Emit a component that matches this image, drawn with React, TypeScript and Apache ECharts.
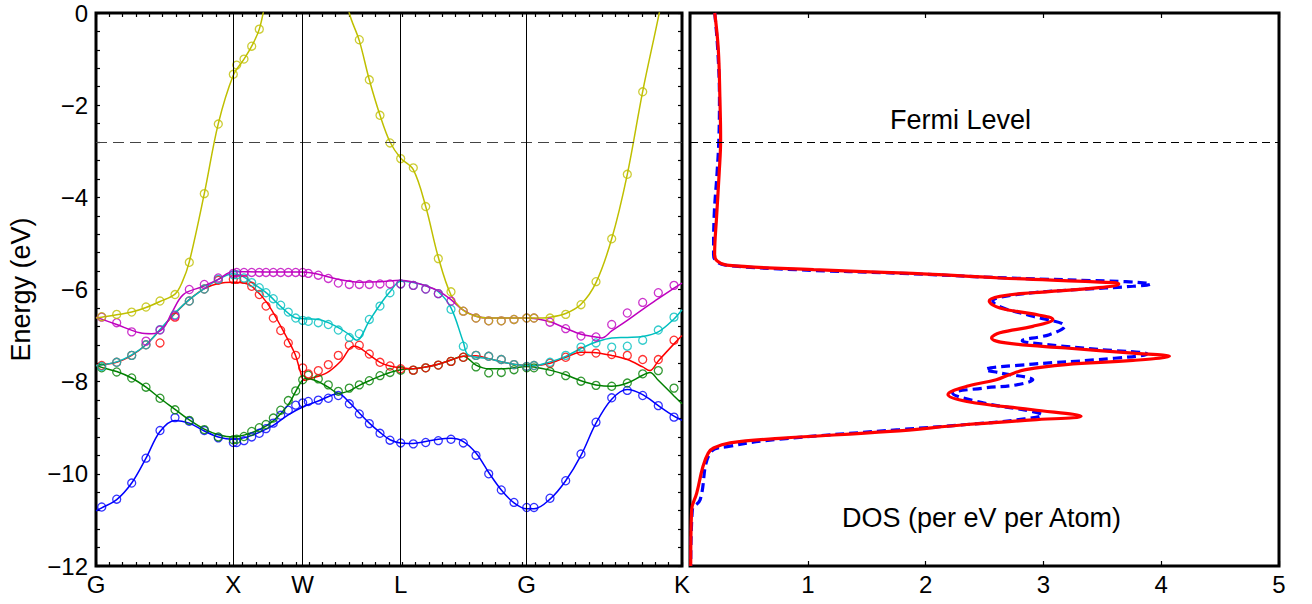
import React, { useEffect, useRef } from 'react';
import * as echarts from 'echarts';

// ---------- Band structure (left panel) ----------
const kTicks = [0, 137.3, 206.7, 304.7, 430.7, 586];
const kTickLabels = ['G', 'X', 'W', 'L', 'G', 'K'];
const fermiLevel = -2.8;
const energyTicks = [0, -2, -4, -6, -8, -10, -12];

// k positions of the computed points (circles)
const kPoints = [5.7, 20.7, 35.7, 50, 64, 79, 93.3, 108.3, 122.3, 137.3,
  140.7, 148, 155.7, 163.3, 170, 177.3, 184.7, 192.3, 199.7, 206.7,
  212.3, 222.3, 232.3, 242.3, 253.3, 263.3, 273.3, 284, 294, 304.7,
  317.3, 329.7, 342.3, 355, 367.3, 380, 392.7, 405.3, 418, 430.7,
  438, 454, 469.7, 485, 500, 515.7, 531.3, 546.7, 562.3, 578];

const bluePts = [-10.72, -10.55, -10.2, -9.66, -9.06, -8.78, -8.86, -9.06, -9.22, -9.32,
  -9.32, -9.28, -9.2, -9.12, -9.02, -8.9, -8.73, -8.62, -8.51, -8.46,
  -8.43, -8.4, -8.36, -8.3, -8.48, -8.7, -8.91, -9.12, -9.27, -9.33,
  -9.35, -9.32, -9.28, -9.25, -9.33, -9.6, -10.0, -10.35, -10.62, -10.73,
  -10.73, -10.53, -10.15, -9.57, -8.88, -8.35, -8.19, -8.3, -8.52, -8.77];
const greenPts = [-7.7, -7.79, -7.92, -8.12, -8.36, -8.61, -8.84, -9.04, -9.2, -9.26,
  -9.25, -9.19, -9.08, -9.0, -8.93, -8.79, -8.62, -8.41, -8.2, -7.96,
  -7.86, -7.94, -8.07, -8.21, -8.14, -8.07, -7.98, -7.87, -7.8, -7.75,
  -7.75, -7.7, -7.64, -7.56, -7.47, -7.68, -7.81, -7.8, -7.74, -7.7,
  -7.7, -7.78, -7.87, -7.99, -8.08, -8.1, -8.03, -7.83, -7.76, -8.14];
const redPts = [-7.65, -7.58, -7.43, -7.2, -7.16, -6.6, -6.25, -5.99, -5.8, -5.78,
  -5.78, -5.78, -5.93, -6.11, -6.36, -6.62, -6.89, -7.16, -7.43, -7.7,
  -7.83, -7.76, -7.63, -7.43, -7.21, -7.21, -7.4, -7.58, -7.66, -7.72,
  -7.75, -7.7, -7.64, -7.56, -7.47, -7.43, -7.45, -7.52, -7.63, -7.67,
  -7.65, -7.6, -7.47, -7.34, -7.38, -7.41, -7.43, -7.52, -7.52, -7.1];
const cyanPts = [-7.67, -7.58, -7.43, -7.2, -6.87, -6.55, -6.25, -5.99, -5.78, -5.68,
  -5.68, -5.75, -5.85, -5.96, -6.07, -6.2, -6.34, -6.49, -6.62, -6.67,
  -6.69, -6.72, -6.76, -6.88, -7.04, -6.96, -6.65, -6.36, -6.07, -5.88,
  -5.91, -5.99, -6.09, -6.43, -7.23, -7.43, -7.45, -7.52, -7.63, -7.67,
  -7.65, -7.58, -7.43, -7.25, -7.16, -7.25, -7.23, -7.1, -6.88, -6.6];
const magentaPts = [-6.6, -6.72, -6.92, -7.12, -6.88, -6.57, -6.0, -5.89, -5.75, -5.65,
  -5.63, -5.63, -5.63, -5.63, -5.63, -5.63, -5.63, -5.63, -5.63, -5.63,
  -5.65, -5.69, -5.76, -5.86, -5.89, -5.89, -5.89, -5.88, -5.88, -5.88,
  -5.91, -5.99, -6.09, -6.25, -6.47, -6.62, -6.68, -6.68, -6.65, -6.62,
  -6.62, -6.71, -6.85, -7.01, -7.03, -6.76, -6.51, -6.28, -6.07, -5.91];
const yellowPts = [-6.59, -6.54, -6.49, -6.38, -6.25, -6.11, -5.41, -3.92, -2.41, -1.33,
  -1.13, -1.0, -0.72, -0.35, null, null, null, null, null, null,
  null, null, null, null, null, -0.58, -1.45, -2.22, -2.82, -3.16,
  -3.36, -4.2, -5.33, -6.05, -6.47, -6.62, -6.68, -6.68, -6.65, -6.62,
  -6.62, -6.62, -6.54, -6.33, -5.83, -4.9, -3.5, -1.71, null, null];

// fitted curves (k, E)
const blueLine = [[0, -10.8], [5.7, -10.74], [20.7, -10.56], [35.7, -10.2], [50, -9.66], [64, -9.08], [79, -8.84], [93.3, -8.9], [108.3, -9.07], [122.3, -9.2], [137.3, -9.25], [148, -9.22], [163.3, -9.1], [177.3, -8.95], [192.3, -8.72], [206.7, -8.55], [222.3, -8.42], [242.3, -8.26], [253.3, -8.45], [263.3, -8.68], [273.3, -8.9], [284, -9.1], [294, -9.26], [304.7, -9.33], [317.3, -9.34], [329.7, -9.3], [342.3, -9.25], [355, -9.23], [367.3, -9.3], [380, -9.55], [392.7, -9.97], [405.3, -10.35], [418, -10.63], [430.7, -10.76], [438, -10.76], [454, -10.55], [469.7, -10.15], [485, -9.6], [500, -8.9], [515.7, -8.38], [531.3, -8.17], [546.7, -8.28], [562.3, -8.52], [578, -8.75], [586, -8.84]];
const greenLine = [[0, -7.65], [5.7, -7.69], [20.7, -7.78], [35.7, -7.92], [50, -8.12], [64, -8.36], [79, -8.6], [93.3, -8.83], [108.3, -9.03], [122.3, -9.15], [137.3, -9.2], [148, -9.16], [163.3, -9.04], [177.3, -8.85], [192.3, -8.5], [200, -8.2], [206.7, -7.96], [211, -7.93], [222.3, -8.0], [232.3, -8.12], [243, -8.25], [253.3, -8.2], [263.3, -8.08], [273.3, -7.98], [284, -7.88], [294, -7.8], [304.7, -7.74], [317.3, -7.72], [329.7, -7.68], [342.3, -7.62], [355, -7.53], [367.3, -7.45], [380, -7.64], [392.7, -7.72], [405.3, -7.72], [418, -7.7], [430.7, -7.67], [438, -7.68], [454, -7.75], [469.7, -7.85], [485, -7.98], [500, -8.07], [515.7, -8.1], [531.3, -8.03], [546.7, -7.86], [554, -7.8], [562.3, -7.97], [578, -8.31], [586, -8.48]];
const redLine = [[0, -7.65], [20.7, -7.58], [35.7, -7.43], [50, -7.2], [64, -6.88], [79, -6.52], [93.3, -6.22], [108.3, -5.98], [122.3, -5.87], [137.3, -5.84], [148, -5.86], [155.7, -5.93], [170.7, -6.28], [187.3, -6.9], [199, -7.4], [204, -7.75], [208, -7.97], [215, -7.93], [230.7, -7.81], [245, -7.55], [257.3, -7.23], [263.3, -7.26], [273.3, -7.42], [284, -7.58], [294, -7.66], [304.7, -7.7], [317.3, -7.72], [329.7, -7.68], [342.3, -7.62], [355, -7.53], [367.3, -7.45], [380, -7.44], [392.7, -7.5], [405.3, -7.57], [418, -7.62], [430.7, -7.65], [438, -7.65], [454, -7.6], [469.7, -7.47], [485, -7.36], [500, -7.37], [515.7, -7.43], [531.3, -7.52], [546.7, -7.68], [554, -7.76], [562.3, -7.55], [578, -7.18], [586, -7.0]];
const cyanLine = [[0, -7.65], [20.7, -7.57], [35.7, -7.42], [50, -7.2], [64, -6.87], [79, -6.51], [93.3, -6.22], [108.3, -5.98], [122.3, -5.78], [137.3, -5.66], [147.3, -5.72], [155.7, -5.85], [170.7, -6.08], [187.3, -6.42], [200, -6.62], [212.3, -6.64], [222.3, -6.65], [232.3, -6.72], [245, -6.86], [253.3, -6.98], [260.7, -7.1], [273.3, -6.68], [284, -6.33], [294, -6.05], [304.7, -5.82], [317.3, -5.85], [329.7, -5.92], [342.3, -6.05], [355, -6.4], [367.3, -7.14], [372.3, -7.42], [392.7, -7.5], [405.3, -7.57], [418, -7.62], [430.7, -7.65], [438, -7.65], [454, -7.57], [469.7, -7.45], [485, -7.28], [500, -7.14], [515.7, -7.05], [531.3, -7.04], [546.7, -7.02], [562.3, -6.92], [578, -6.64], [586, -6.44]];
const magentaLine = [[0, -6.6], [20.7, -6.76], [44, -6.94], [55.7, -6.96], [67.3, -6.84], [75.7, -6.51], [87.3, -6.11], [107.3, -5.93], [122.3, -5.78], [137.3, -5.61], [170, -5.62], [206.7, -5.62], [222.3, -5.67], [242.3, -5.78], [263.3, -5.84], [284, -5.83], [304.7, -5.8], [317.3, -5.84], [329.7, -5.92], [342.3, -6.03], [355, -6.22], [367.3, -6.45], [380, -6.58], [392.7, -6.62], [430.7, -6.62], [438, -6.63], [454, -6.7], [469.7, -6.84], [485, -6.97], [500, -7.03], [505.7, -7.05], [515.7, -6.9], [531.3, -6.67], [546.7, -6.43], [562.3, -6.2], [578, -5.97], [586, -5.86]];
const yellowLine1 = [[0, -6.62], [5.7, -6.6], [20.7, -6.55], [35.7, -6.49], [50, -6.39], [64, -6.26], [79, -6.1], [86, -5.85], [93.3, -5.4], [108.3, -3.92], [122.3, -2.4], [137.3, -1.35], [148, -1.0], [155.7, -0.72], [163.3, -0.35], [170, 0.3], [177.3, 1.0]];
const yellowLine2 = [[245, 1.0], [253.3, 0], [263.3, -0.6], [273.3, -1.45], [284, -2.22], [294, -2.8], [304.7, -3.15], [317.3, -3.4], [329.7, -4.2], [342.3, -5.3], [355, -6.12], [367.3, -6.45], [380, -6.58], [392.7, -6.62], [430.7, -6.62], [438, -6.62], [454, -6.6], [469.7, -6.52], [485, -6.32], [500, -5.85], [515.7, -4.9], [531.3, -3.5], [546.7, -1.7], [562.3, -0.1], [578, 1.6]];

// ---------- DOS (right panel) ----------
const dosTicks = [0, 1, 2, 3, 4, 5];
const dosRedE = [0, -0.78, -1.87, -2.74, -3.46, -4.41, -5.24, -5.38, -5.47, -5.57, -5.65, -5.75, -5.85, -5.88, -5.96, -6.07, -6.15, -6.25, -6.4, -6.53, -6.65, -6.8, -6.94, -7.05, -7.16, -7.27, -7.38, -7.45, -7.54, -7.63, -7.74, -7.85, -7.96, -8.1, -8.28, -8.43, -8.61, -8.75, -8.83, -8.93, -9.08, -9.23, -9.33, -9.44, -9.55, -9.84, -10.42, -10.78, -12];
const dosRed = [0.21, 0.24, 0.254, 0.26, 0.248, 0.226, 0.209, 0.23, 0.31, 1.05, 1.89, 2.63, 3.59, 3.64, 3.47, 2.91, 2.63, 2.54, 2.63, 2.91, 3.08, 2.91, 2.63, 2.56, 2.68, 3.19, 3.76, 4.07, 3.76, 3.19, 2.85, 2.71, 2.6, 2.35, 2.19, 2.35, 2.91, 3.32, 2.91, 2.35, 1.7, 0.76, 0.34, 0.2, 0.155, 0.11, 0.057, 0.014, 0.006];
const dosBlueE = [0, -0.78, -1.87, -2.74, -3.46, -4.41, -5.24, -5.38, -5.47, -5.57, -5.65, -5.75, -5.83, -5.86, -5.88, -5.93, -6.0, -6.07, -6.17, -6.25, -6.4, -6.58, -6.8, -6.98, -7.11, -7.2, -7.3, -7.4, -7.52, -7.62, -7.74, -7.81, -7.96, -8.07, -8.14, -8.25, -8.46, -8.65, -8.72, -8.83, -8.93, -9.04, -9.25, -9.4, -9.55, -10.57, -10.78, -12];
const dosBlue = [0.21, 0.235, 0.25, 0.245, 0.23, 0.205, 0.2, 0.22, 0.3, 0.9, 1.8, 2.7, 3.7, 3.87, 3.91, 3.76, 3.3, 2.91, 2.63, 2.57, 2.66, 2.91, 3.18, 3.05, 2.82, 3.05, 3.47, 3.88, 3.47, 2.91, 2.51, 2.63, 2.91, 2.77, 2.49, 2.23, 2.49, 2.91, 2.99, 2.77, 2.35, 1.78, 0.76, 0.34, 0.17, 0.085, 0.02, 0.006];

const FONT = "'Liberation Sans', Arial, Helvetica, sans-serif";

const bands = [
  { color: '#0000ff', pts: bluePts, lines: [blueLine] },
  { color: '#008000', pts: greenPts, lines: [greenLine] },
  { color: '#ff0000', pts: redPts, lines: [redLine] },
  { color: '#00bfbf', pts: cyanPts, lines: [cyanLine] },
  { color: '#bf00bf', pts: magentaPts, lines: [magentaLine] },
  { color: '#bfbf00', pts: yellowPts, lines: [yellowLine1, yellowLine2] },
];

function kLabel(v: number) {
  for (let i = 0; i < kTicks.length; i++) {
    if (Math.abs(kTicks[i] - v) < 0.5) return kTickLabels[i];
  }
  return '';
}

function buildOption() {
  const kMax = kTicks[kTicks.length - 1];
  const minorK = kMax / 44;
  const eMin = energyTicks[energyTicks.length - 1];
  const eMax = energyTicks[0];
  const series: any[] = [];
  bands.forEach((b) => {
    b.lines.forEach((ln) => {
      series.push({
        type: 'line', xAxisIndex: 0, yAxisIndex: 0, data: ln, smooth: 0.35,
        showSymbol: false, symbol: 'none', clip: true, z: 3,
        lineStyle: { color: b.color, width: 1.5 },
      });
    });
    series.push({
      type: 'scatter', xAxisIndex: 0, yAxisIndex: 0, clip: true, z: 4,
      data: kPoints.map((k, i) => (b.pts[i] == null ? null : [k, b.pts[i]])).filter((d) => d !== null),
      symbol: 'circle', symbolSize: 8,
      itemStyle: { color: 'rgba(0,0,0,0)', borderColor: b.color, borderWidth: 1.3 },
    });
  });
  // reference lines in the band panel
  series.push({
    type: 'line', xAxisIndex: 0, yAxisIndex: 0, data: [], z: 2,
    markLine: {
      silent: true, symbol: ['none', 'none'], label: { show: false }, animation: false,
      data: [
        { yAxis: fermiLevel, lineStyle: { type: [11, 6], color: '#444', width: 1 } },
        ...kTicks.slice(1, kTicks.length - 1).map((k) => ({ xAxis: k, lineStyle: { type: 'solid', color: '#000', width: 1 } })),
      ],
    },
  });
  // DOS
  series.push({
    type: 'line', xAxisIndex: 2, yAxisIndex: 2, smooth: 0.4, showSymbol: false, symbol: 'none', z: 3,
    data: dosBlueE.map((e, i) => [dosBlue[i], e]),
    lineStyle: { color: '#0000ff', width: 3.2, type: [9, 5] },
    markLine: {
      silent: true, symbol: ['none', 'none'], label: { show: false }, animation: false,
      data: [{ yAxis: fermiLevel, lineStyle: { type: [8, 5], color: '#000', width: 1 } }],
    },
  });
  series.push({
    type: 'line', xAxisIndex: 2, yAxisIndex: 2, smooth: 0.4, showSymbol: false, symbol: 'none', z: 4,
    data: dosRedE.map((e, i) => [dosRed[i], e]),
    lineStyle: { color: '#ff0000', width: 3.2 },
  });

  const tickStyle = { color: '#000', width: 1.2 };
  const labelStyle = { color: '#000', fontSize: 24, fontFamily: FONT };
  const noLine = { show: false, onZero: false };
  const bare = { axisLine: noLine, splitLine: { show: false }, axisLabel: { show: false } };

  return {
    animation: false,
    backgroundColor: '#fff',
    grid: [
      { left: 96, top: 13, width: 586, height: 553, show: true, borderColor: '#000', borderWidth: 3, backgroundColor: '#fff' },
      { left: 690, top: 13, width: 589, height: 553, show: true, borderColor: '#000', borderWidth: 3, backgroundColor: '#fff' },
    ],
    xAxis: [
      {
        type: 'value', gridIndex: 0, position: 'bottom', min: 0, max: kMax, interval: minorK,
        axisLine: noLine, splitLine: { show: false },
        axisTick: { show: true, inside: true, length: 4, lineStyle: tickStyle },
        axisLabel: { ...labelStyle, show: true, customValues: kTicks, formatter: (v: number) => kLabel(v), margin: 6, showMinLabel: true, showMaxLabel: true },
      },
      {
        type: 'value', gridIndex: 0, position: 'top', min: 0, max: kMax, interval: minorK, ...bare,
        axisTick: { show: true, inside: true, length: 4, lineStyle: tickStyle },
      },
      {
        type: 'value', gridIndex: 1, position: 'bottom', min: dosTicks[0], max: dosTicks[dosTicks.length - 1], interval: 1,
        axisLine: noLine, splitLine: { show: false },
        axisTick: { show: true, inside: true, length: 5, lineStyle: tickStyle },
        axisLabel: { ...labelStyle, margin: 6, showMinLabel: false },
      },
      {
        type: 'value', gridIndex: 1, position: 'top', min: dosTicks[0], max: dosTicks[dosTicks.length - 1], interval: 1, ...bare,
        axisTick: { show: true, inside: true, length: 5, lineStyle: tickStyle },
      },
    ],
    yAxis: [
      {
        type: 'value', gridIndex: 0, position: 'left', min: eMin, max: eMax, interval: 0.4,
        axisLine: noLine, splitLine: { show: false },
        axisTick: { show: true, inside: true, length: 4, lineStyle: tickStyle },
        axisLabel: { ...labelStyle, margin: 8, customValues: energyTicks, formatter: (v: number) => (v === 0 ? '0' : '\u2212' + Math.abs(v)) },
        name: 'Energy (eV)', nameLocation: 'middle', nameRotate: 90, nameGap: 62,
        nameTextStyle: { color: '#000', fontSize: 27, fontFamily: FONT },
      },
      {
        type: 'value', gridIndex: 0, position: 'right', min: eMin, max: eMax, interval: 0.4, ...bare,
        axisTick: { show: true, inside: true, length: 4, lineStyle: tickStyle },
      },
      {
        type: 'value', gridIndex: 1, position: 'left', min: eMin, max: eMax, ...bare, axisTick: { show: false },
      },
    ],
    graphic: [
      { type: 'text', left: 890, top: 106, style: { text: 'Fermi Level', fontSize: 27, fontFamily: FONT, fill: '#000' }, z: 10 },
      { type: 'text', left: 842, top: 504, style: { text: 'DOS (per eV per Atom)', fontSize: 27, fontFamily: FONT, fill: '#000' }, z: 10 },
    ],
    series,
  };
}

export default function App() {
  const ref = useRef<HTMLDivElement>(null);
  useEffect(() => {
    if (!ref.current) return;
    const chart = echarts.init(ref.current, null, { renderer: 'svg' });
    chart.setOption(buildOption() as any);
    return () => chart.dispose();
  }, []);
  return (
    <div
      ref={ref}
      style={{ position: 'absolute', left: 0, top: 0, width: 1312, height: 604, background: '#fff' }}
    />
  );
}
